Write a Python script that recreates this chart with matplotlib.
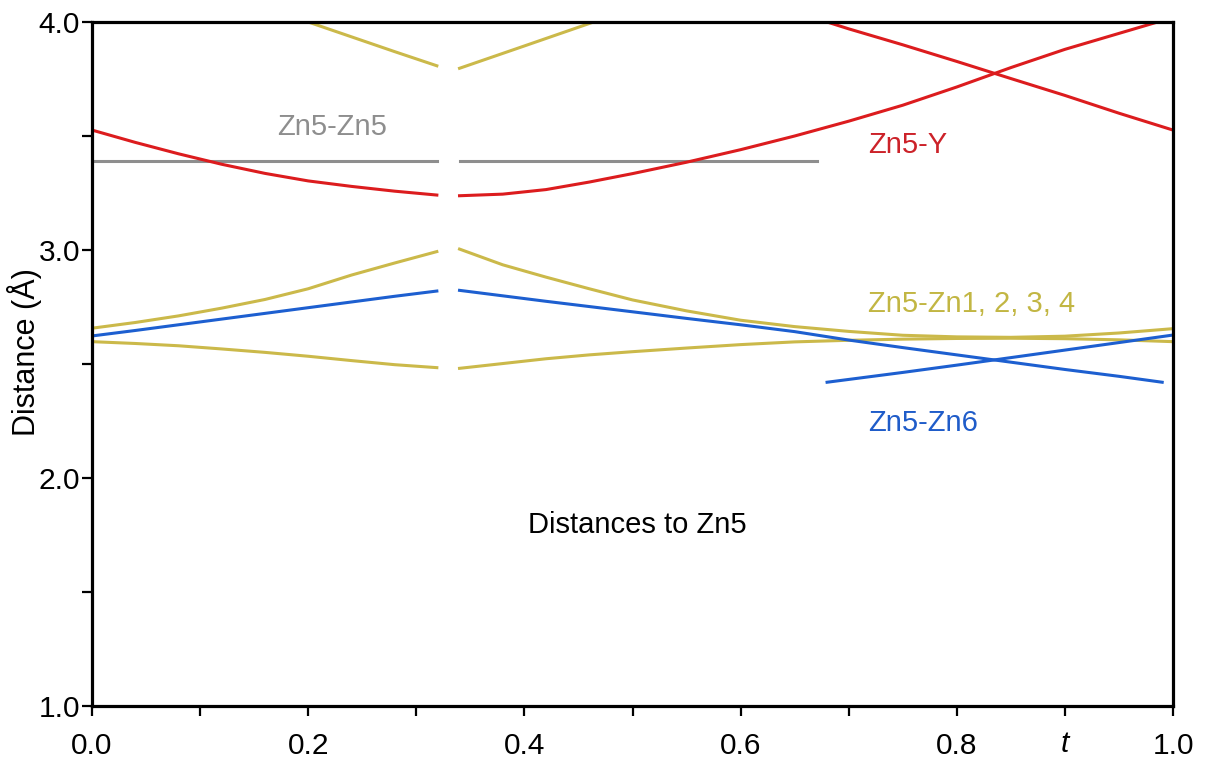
import matplotlib
matplotlib.use("Agg")
import matplotlib.pyplot as plt
import matplotlib.transforms as mtransforms
from matplotlib.ticker import MultipleLocator

plt.rcParams['font.family'] = ['Liberation Sans', 'DejaVu Sans']

RED = "#dc1c1e"
YELLOW = "#cbb94a"
BLUE = "#1d5fd0"
GRAY = "#8e8e8e"

# left branch, t = 0 .. gap
t_left = [0.0, 0.04, 0.08, 0.12, 0.16, 0.20, 0.24, 0.28, 0.319]
zn5_y_left = [3.526, 3.472, 3.422, 3.376, 3.336, 3.303, 3.279, 3.258, 3.241]
zn_upper_left = [2.657, 2.682, 2.711, 2.745, 2.783, 2.830, 2.890, 2.943, 2.993]
zn_lower_left = [2.598, 2.590, 2.580, 2.566, 2.551, 2.534, 2.515, 2.497, 2.484]
zn6_left = [2.623, 2.647, 2.672, 2.697, 2.722, 2.747, 2.772, 2.797, 2.820]

t_top_left = [0.16, 0.20, 0.24, 0.28, 0.319]
zn_top_left = [4.065, 4.000, 3.935, 3.870, 3.808]

# right branch, gap .. t = 1
t_right = [0.34, 0.38, 0.42, 0.46, 0.50, 0.55, 0.60, 0.65, 0.70, 0.75,
           0.80, 0.85, 0.90, 0.95, 1.0]
zn5_y_up = [3.238, 3.245, 3.265, 3.298, 3.335, 3.385, 3.440, 3.500, 3.565,
            3.635, 3.715, 3.800, 3.880, 3.950, 4.020]
zn_upper_right = [3.004, 2.935, 2.881, 2.830, 2.781, 2.733, 2.692, 2.664,
                  2.643, 2.626, 2.619, 2.617, 2.622, 2.636, 2.655]
zn_lower_right = [2.481, 2.502, 2.523, 2.540, 2.554, 2.570, 2.585, 2.597,
                  2.604, 2.609, 2.612, 2.613, 2.611, 2.606, 2.598]

t_zn6_down = [0.34, 0.38, 0.42, 0.46, 0.50, 0.55, 0.60, 0.65, 0.70, 0.75,
              0.80, 0.85, 0.90, 0.95, 0.99]
zn6_down = [2.823, 2.799, 2.775, 2.752, 2.729, 2.700, 2.672, 2.642, 2.605,
            2.572, 2.540, 2.508, 2.476, 2.446, 2.420]

t_zn6_up = [0.68, 0.75, 0.80, 0.85, 0.90, 0.95, 1.0]
zn6_up = [2.420, 2.463, 2.495, 2.528, 2.561, 2.594, 2.627]

t_y_down = [0.65, 0.70, 0.75, 0.80, 0.85, 0.90, 0.95, 1.0]
zn5_y_down = [4.045, 3.970, 3.900, 3.827, 3.752, 3.678, 3.600, 3.526]

t_top_right = [0.34, 0.40, 0.464, 0.50]
zn_top_right = [3.797, 3.895, 4.000, 4.060]

zn5_zn5 = 3.39
t_zn5_left = [0.0, 0.319]
t_zn5_right = [0.34, 0.671]

fig = plt.figure(figsize=(12.06, 7.65), dpi=100)
ax = fig.add_axes([92 / 1206, 1 - 706 / 765, (1173 - 92) / 1206, (706 - 22) / 765])

lw = 2.2
ax.plot(t_zn5_left, [zn5_zn5] * 2, color=GRAY, lw=lw)
ax.plot(t_zn5_right, [zn5_zn5] * 2, color=GRAY, lw=lw)

ax.plot(t_left, zn5_y_left, color=RED, lw=lw)
ax.plot(t_right, zn5_y_up, color=RED, lw=lw)
ax.plot(t_y_down, zn5_y_down, color=RED, lw=lw)

ax.plot(t_top_left, zn_top_left, color=YELLOW, lw=lw)
ax.plot(t_top_right, zn_top_right, color=YELLOW, lw=lw)
ax.plot(t_left, zn_upper_left, color=YELLOW, lw=lw)
ax.plot(t_left, zn_lower_left, color=YELLOW, lw=lw)
ax.plot(t_right, zn_upper_right, color=YELLOW, lw=lw)
ax.plot(t_right, zn_lower_right, color=YELLOW, lw=lw)

ax.plot(t_left, zn6_left, color=BLUE, lw=lw)
ax.plot(t_zn6_down, zn6_down, color=BLUE, lw=lw)
ax.plot(t_zn6_up, zn6_up, color=BLUE, lw=lw)

ax.set_xlim(0, 1)
ax.set_ylim(1, 4)
ax.xaxis.set_major_locator(MultipleLocator(0.2))
ax.xaxis.set_minor_locator(MultipleLocator(0.1))
ax.yaxis.set_major_locator(MultipleLocator(1.0))
ax.yaxis.set_minor_locator(MultipleLocator(0.5))
ax.xaxis.set_major_formatter(plt.FuncFormatter(lambda v, p: f"{v:.1f}"))
ax.yaxis.set_major_formatter(plt.FuncFormatter(lambda v, p: f"{v:.1f}"))

for s in ax.spines.values():
    s.set_linewidth(2.3)
    s.set_color("black")
ax.tick_params(which="both", direction="out", length=7.5, width=1.6,
               top=False, right=False, labelsize=21.5)
ax.tick_params(axis="x", which="major", pad=11)
ax.tick_params(axis="y", which="major", pad=1)

fs = 21
ax.text(0.171, 3.504, "Zn5-Zn5", color=GRAY, fontsize=fs, va="baseline")
ax.text(0.718, 3.425, "Zn5-Y", color="#cc2229", fontsize=fs, va="baseline")
ax.text(0.718, 2.728, "Zn5-Zn1, 2, 3, 4", color="#c2b643", fontsize=fs,
        va="baseline")
ax.text(0.718, 2.206, "Zn5-Zn6", color="#1f5cc9", fontsize=fs, va="baseline")
ax.text(0.504, 1.759, "Distances to Zn5", color="black", fontsize=fs,
        ha="center", va="baseline")

trans = mtransforms.blended_transform_factory(ax.transData, ax.transAxes)
ax.text(0.9, -0.0555, "t", transform=trans, fontsize=21.5, style="italic",
        ha="center", va="center")

fig.text(25 / 1206, 1 - 352 / 765, "Distance (Å)", rotation=90, fontsize=22,
         ha="center", va="center")

fig.savefig("out.png", dpi=100)
